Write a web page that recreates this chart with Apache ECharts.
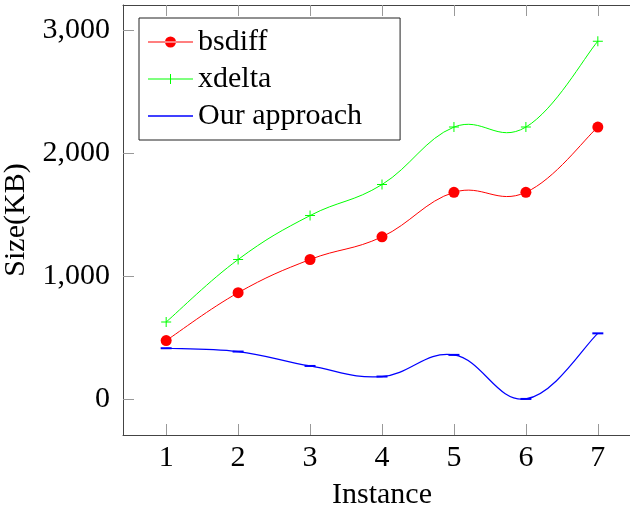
<!DOCTYPE html>
<html>
<head>
<meta charset="utf-8">
<script src="https://cdn.jsdelivr.net/npm/echarts@6/dist/echarts.min.js"></script>
<style>
  html, body { margin: 0; padding: 0; background: #fff; }
  #chart { width: 630px; height: 516px; }
</style>
</head>
<body>
<div id="chart"></div>
<script>
const instances = [1, 2, 3, 4, 5, 6, 7]
const bsdiff = [476, 865, 1135, 1319, 1681, 1681, 2211]
const xdelta = [627, 1135, 1492, 1744, 2211, 2211, 2909]
const ourApproach = [414, 387, 270, 184, 360, 2, 535]
const yTicks = [0, 1000, 2000, 3000]

const font = 'Liberation Serif'
const pair = (arr) => arr.map((v, i) => [instances[i], v])
const plus = 'path://M4.5,0H5.5V4.5H10V5.5H5.5V10H4.5V5.5H0V4.5H4.5Z'
// legend icons: line + marker, drawn in a 45x14 box
const iconCircle = 'path://M0,6.5H45V7.5H0Z M17,7A5.5,5.5 0 1 0 28,7A5.5,5.5 0 1 0 17,7Z'
const iconPlus = 'path://M0,6.5H45V7.5H0Z M22,2H23V12H22Z'
const iconLine = 'path://M0,0H45V1.3H0Z'

// pgfplots-like smooth curve, one bezier per segment
const TENSION = 0.2
function smoothRender(color, width) {
  return function (params, api) {
    const i = params.dataIndexInside
    const n = params.dataInsideLength
    if (i >= n - 1) return null
    const pt = (k) => {
      k = Math.max(0, Math.min(n - 1, k))
      return api.coord([api.value(0, k), api.value(1, k)])
    }
    const p0 = pt(i - 1)
    const p1 = pt(i)
    const p2 = pt(i + 1)
    const p3 = pt(i + 2)
    return {
      type: 'bezierCurve',
      shape: {
        x1: p1[0],
        y1: p1[1],
        x2: p2[0],
        y2: p2[1],
        cpx1: p1[0] + (p2[0] - p0[0]) * TENSION,
        cpy1: p1[1] + (p2[1] - p0[1]) * TENSION,
        cpx2: p2[0] - (p3[0] - p1[0]) * TENSION,
        cpy2: p2[1] - (p3[1] - p1[1]) * TENSION,
      },
      style: { stroke: color, lineWidth: width, fill: null },
    }
  }
}

const chart = echarts.init(document.getElementById('chart'))

const tickStyle = { color: '#999', width: 1 }
const lineStyle = { color: '#444', width: 1 }

const option = {
  animation: false,
  grid: { left: 123, top: 5, right: -11, bottom: 81, containLabel: false, outerBoundsMode: 'none' },
  legend: {
    orient: 'vertical',
    left: 139,
    top: 18,
    padding: [9, 38, 9, 9],
    itemGap: 7,
    itemWidth: 45,
    itemHeight: 14,
    backgroundColor: '#fff',
    borderColor: '#222',
    borderWidth: 1,
    borderRadius: 0,
    itemStyle: { opacity: 1 },
    textStyle: { fontFamily: font, fontSize: 30, lineHeight: 30, color: '#000' },
    data: [
      { name: 'bsdiff', icon: iconCircle },
      { name: 'xdelta', icon: iconPlus },
      { name: 'Our approach', icon: iconLine },
    ],
  },
  xAxis: [
    {
      type: 'value',
      min: 0.4,
      max: 7.6,
      name: 'Instance',
      nameLocation: 'middle',
      nameGap: 45,
      nameTextStyle: { fontFamily: font, fontSize: 30, color: '#000' },
      axisLine: { onZero: false, lineStyle: lineStyle },
      axisTick: { inside: true, length: 11, lineStyle: tickStyle, customValues: instances },
      axisLabel: { fontFamily: font, fontSize: 30, color: '#000', margin: 8, customValues: instances },
      splitLine: { show: false },
    },
    {
      type: 'value',
      position: 'top',
      min: 0.4,
      max: 7.6,
      axisLine: { onZero: false, lineStyle: lineStyle },
      axisTick: { inside: true, length: 11, lineStyle: tickStyle, customValues: instances },
      axisLabel: { show: false },
      splitLine: { show: false },
    },
  ],
  yAxis: [
    {
      type: 'value',
      min: -291,
      max: 3203,
      name: 'Size(KB)',
      nameLocation: 'middle',
      nameGap: 81,
      nameTextStyle: { fontFamily: font, fontSize: 30, color: '#000' },
      axisLine: { show: true, onZero: false, lineStyle: lineStyle },
      axisTick: { show: true, inside: true, length: 11, lineStyle: tickStyle, customValues: yTicks },
      axisLabel: {
        fontFamily: font,
        fontSize: 30,
        color: '#000',
        margin: 13,
        customValues: yTicks,
        formatter: (v) => v.toLocaleString('en-US'),
      },
      splitLine: { show: false },
    },
    {
      type: 'value',
      position: 'right',
      min: -291,
      max: 3203,
      axisLine: { show: true, onZero: false, lineStyle: lineStyle },
      axisTick: { show: true, inside: true, length: 11, lineStyle: tickStyle, customValues: yTicks },
      axisLabel: { show: false },
      splitLine: { show: false },
    },
  ],
  series: [
    {
      name: 'Our approach',
      type: 'custom',
      renderItem: smoothRender('#0000ff', 1.2),
      encode: { x: 0, y: 1 },
      color: '#0000ff',
      data: pair(ourApproach),
      z: 1,
    },
    {
      name: 'Our approach',
      type: 'scatter',
      symbol: 'rect',
      symbolSize: [11, 2],
      color: '#0000ff',
      itemStyle: { opacity: 1 },
      data: pair(ourApproach),
      z: 1,
    },
    {
      name: 'xdelta',
      type: 'custom',
      renderItem: smoothRender('#00ff00', 1),
      encode: { x: 0, y: 1 },
      color: '#00ff00',
      data: pair(xdelta),
      z: 2,
    },
    {
      name: 'xdelta',
      type: 'scatter',
      symbol: plus,
      symbolSize: 10,
      color: '#00ff00',
      itemStyle: { opacity: 1 },
      data: pair(xdelta),
      z: 2,
    },
    {
      name: 'bsdiff',
      type: 'custom',
      renderItem: smoothRender('#ff0000', 1),
      encode: { x: 0, y: 1 },
      color: '#ff0000',
      data: pair(bsdiff),
      z: 3,
    },
    {
      name: 'bsdiff',
      type: 'scatter',
      symbol: 'circle',
      symbolSize: 11,
      color: '#ff0000',
      itemStyle: { opacity: 1 },
      data: pair(bsdiff),
      z: 3,
    },
  ],
}

chart.setOption(option)
</script>
</body>
</html>
